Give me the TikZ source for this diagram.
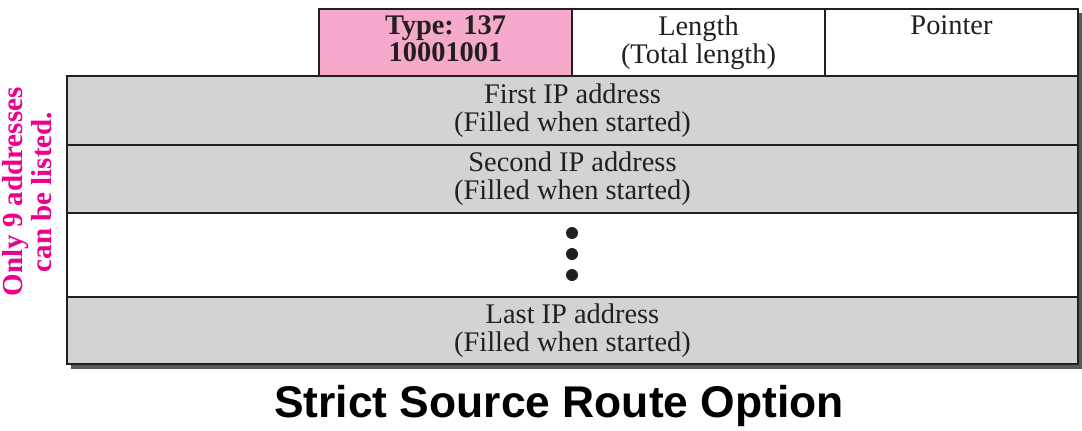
\documentclass[tikz,border=0pt]{standalone}
\usepackage{fontspec}
\setmainfont{Liberation Serif}
\newfontfamily\titlefont{Liberation Sans}
\usetikzlibrary{positioning}
\definecolor{cpink}{HTML}{F5A9CB}
\definecolor{cgrey}{HTML}{D1D3D4}
\definecolor{cline}{HTML}{231F20}
\definecolor{cshadow}{HTML}{58595B}
\definecolor{cmagenta}{HTML}{EC008C}
\tikzset{
  field/.style={draw=cline, fill=#1, line width=1pt, inner sep=0pt, anchor=north west,
    minimum height=33.5pt, align=center, text=cline, font=\fontsize{14.2}{14}\selectfont},
  field/.default=white,
  label text/.style={align=center, inner sep=0pt, text=cline, font=\fontsize{14.2}{14}\selectfont},
  dot/.style={circle, fill=cline, inner sep=0pt, minimum size=6pt},
}

\begin{document}
\begin{tikzpicture}[x=0.5pt, y=-0.5pt]
  \useasboundingbox (0,0) rectangle (1082,430);
  % drop shadow
  \fill[cshadow] (323,13) rectangle (1082,80);
  \fill[cshadow] (71,80) rectangle (1082,369);
  % option header
  \node[field=cpink, minimum width=126.5pt] (type) at (318,8) {};
  \node[field, minimum width=126.5pt] (len) at (571,8) {};
  \node[field, minimum width=126.5pt] (ptr) at (824,8) {};
  \node[label text, font=\fontsize{14.2}{13.5}\selectfont\bfseries, below=3.5pt of type.north] (typetxt) {Type: 137\\10001001};
  \node[label text, below=3.5pt of len.north] (lentxt) {Length\\(Total length)};
  \node[label text, below=3.5pt of ptr.north] (ptrtxt) {Pointer};
  % address list
  \node[field=cgrey, minimum width=505.5pt, minimum height=34.5pt] (first) at (66,75) {First IP address\\(Filled when started)};
  \node[field=cgrey, minimum width=505.5pt, minimum height=34pt] (second) at (66,144) {Second IP address\\(Filled when started)};
  \node[field, minimum width=505.5pt, minimum height=42pt] (gap) at (66,212) {};
  \node[field=cgrey, minimum width=505.5pt, minimum height=33.5pt] (last) at (66,296) {Last IP address\\(Filled when started)};
  \node[dot] (d1) at (572,233) {};
  \node[dot] (d2) at (572,254) {};
  \node[dot] (d3) at (572,275) {};
  \node[rotate=90, align=center, inner sep=0pt, text=cmagenta, font=\fontsize{14.5}{12.5}\selectfont\bfseries] (note) at (27,192) {Only 9 addresses\\can be listed.};
  \node[font=\titlefont\bfseries\fontsize{22.2}{26}\selectfont] (title) at (559,406) {Strict Source Route Option};
\end{tikzpicture}
\end{document}
